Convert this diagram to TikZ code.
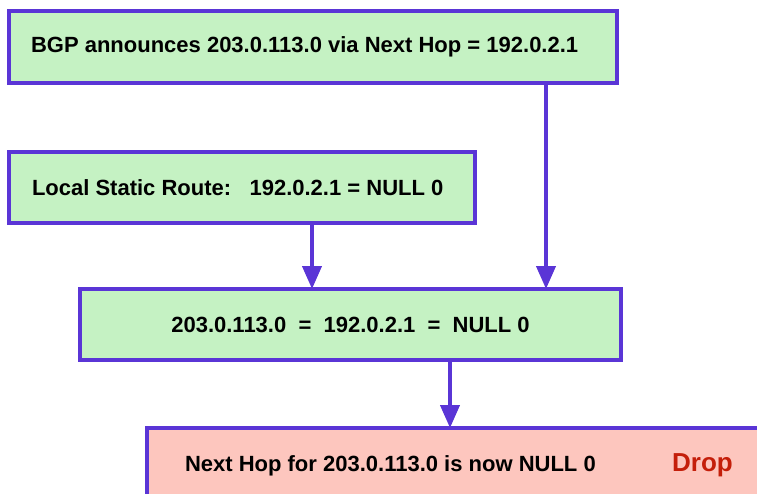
\documentclass[tikz,border=0pt]{standalone}
\usepackage{fontspec}
\setmainfont{Liberation Sans}
\usetikzlibrary{arrows.meta}
\definecolor{edgeviolet}{HTML}{5A35D6}
\definecolor{boxgreen}{HTML}{C5F2C3}
\definecolor{boxpink}{HTML}{FDC6BE}
\definecolor{dropred}{HTML}{C41E0A}
\tikzset{
  boxbase/.style={draw=edgeviolet, line width=3.5pt, anchor=north west,
    inner ysep=0pt, outer sep=0pt,
    font=\fontsize{22}{26}\selectfont\bfseries},
  greenbox/.style={boxbase, fill=boxgreen},
  pinkbox/.style={boxbase, fill=boxpink},
  arr/.style={draw=edgeviolet, line width=4pt,
    -{Triangle[width=19pt,length=23pt]}},
}
\begin{document}
\begin{tikzpicture}
\clip (0pt,0pt) rectangle (757pt,-493pt);
\fill[white] (0pt,0pt) rectangle (757pt,-493pt);
% boxes
\node[greenbox, minimum width=608pt, minimum height=72pt, inner xsep=22pt]
  (b1) at (9pt,-11pt) {\makebox[564pt][l]{BGP announces 203.0.113.0 via Next Hop = 192.0.2.1}};
\node[greenbox, minimum width=466pt, minimum height=71pt, inner xsep=23pt]
  (b2) at (9pt,-152pt) {\makebox[420pt][l]{Local Static Route:\ \ \ 192.0.2.1 = NULL 0}};
\node[greenbox, minimum width=541pt, minimum height=71pt, inner xsep=0pt]
  (b3) at (80pt,-289pt) {203.0.113.0\ \ =\ \ 192.0.2.1\ \ =\ \ NULL 0};
\node[pinkbox, minimum width=640pt, minimum height=76pt, inner xsep=38pt]
  (b4) at (147pt,-428pt) {\makebox[564pt][l]{Next Hop for 203.0.113.0 is now NULL 0}};
\node[anchor=base west, inner sep=0pt, text=dropred,
  font=\fontsize{26}{30}\selectfont\bfseries]
  (drop) at ([xshift=525pt]b4.base west) {Drop};
% connectors
\draw[arr] ([xshift=537pt]b1.south west) -- ([xshift=537pt]b1.south west |- b3.north);
\draw[arr] ([xshift=303pt]b2.south west) -- ([xshift=303pt]b2.south west |- b3.north);
\draw[arr] ([xshift=370pt]b3.south west) -- ([xshift=370pt]b3.south west |- b4.north);
\end{tikzpicture}
\end{document}
